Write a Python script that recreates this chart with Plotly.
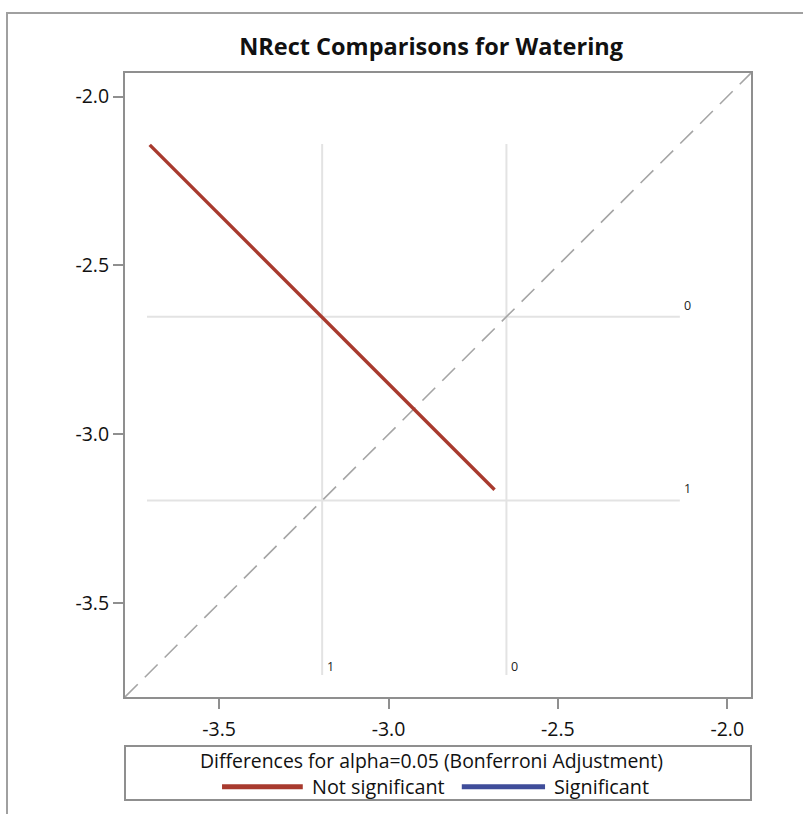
import plotly.graph_objects as go

# ---- data ----
levels = ["0", "1"]
lsmeans = [-2.652, -3.196]            # LS-means of Watering levels 0 and 1
diff_x = [-3.705, -2.687]             # comparison segment (level 1 axis)
diff_y = [-2.143, -3.164]             # comparison segment (level 0 axis)
ref_range = [-3.713, -2.140]          # extent of the reference lines
axis_range = [-3.778, -1.930]
tick_vals = [-3.5, -3.0, -2.5, -2.0]
tick_text = ["-3.5", "-3.0", "-2.5", "-2.0"]
legend_title = "Differences for alpha=0.05 (Bonferroni Adjustment)"
legend_items = ["Not significant", "Significant"]

RED = "#a83a2e"
BLUE = "#3f4d9a"
REF = "#e3e3e3"
AX = "#8f8f8f"
FONT = "Open Sans, Liberation Sans, Arial, sans-serif"

fig = go.Figure()

# reference lines (horizontal: y = mean, vertical: x = mean)
for m in lsmeans:
    fig.add_trace(go.Scatter(x=ref_range, y=[m, m], mode="lines",
                             line=dict(color=REF, width=2), hoverinfo="skip",
                             showlegend=False))
    fig.add_trace(go.Scatter(x=[m, m], y=ref_range, mode="lines",
                             line=dict(color=REF, width=2), hoverinfo="skip",
                             showlegend=False))

# diagonal
fig.add_trace(go.Scatter(x=axis_range, y=axis_range, mode="lines",
                         line=dict(color="#a5a5a5", width=1.6, dash="18px,10px"),
                         hoverinfo="skip", showlegend=False))

# comparison segment
fig.add_trace(go.Scatter(x=diff_x, y=diff_y, mode="lines",
                         line=dict(color=RED, width=3.4), showlegend=False))

annotations = []
# labels on reference lines
for lab, m in zip(levels, lsmeans):
    annotations.append(dict(x=ref_range[1], y=m, xref="x", yref="y", text=lab,
                            showarrow=False, xanchor="left", yanchor="bottom",
                            xshift=2, yshift=1,
                            font=dict(family=FONT, size=12.5, color="#222")))
    annotations.append(dict(x=m, y=ref_range[0], xref="x", yref="y", text=lab,
                            showarrow=False, xanchor="left", yanchor="bottom",
                            xshift=3, yshift=-2,
                            font=dict(family=FONT, size=12.5, color="#222")))

# legend texts
annotations.append(dict(x=0.489, y=-0.101, xref="paper", yref="paper", text=legend_title,
                        showarrow=False, xanchor="center", yanchor="middle",
                        font=dict(family=FONT, size=19.4, color="#111")))
annotations.append(dict(x=0.296, y=-0.144, xref="paper", yref="paper", text=legend_items[0],
                        showarrow=False, xanchor="left", yanchor="middle",
                        font=dict(family=FONT, size=19.8, color="#111")))
annotations.append(dict(x=0.682, y=-0.144, xref="paper", yref="paper", text=legend_items[1],
                        showarrow=False, xanchor="left", yanchor="middle",
                        font=dict(family=FONT, size=19.8, color="#111")))

shapes = [
    # outer frame
    dict(type="rect", xref="paper", yref="paper", x0=-0.1885, y0=-0.3, x1=1.3, y1=1.096,
         line=dict(color="#a0a0a0", width=2), layer="below"),
    # legend box
    dict(type="rect", xref="paper", yref="paper", x0=0, y0=-0.165, x1=1, y1=-0.0785,
         line=dict(color=AX, width=2)),
    # legend samples
    dict(type="line", xref="paper", yref="paper", x0=0.155, x1=0.284, y0=-0.144, y1=-0.144,
         line=dict(color=RED, width=5)),
    dict(type="line", xref="paper", yref="paper", x0=0.538, x1=0.671, y0=-0.144, y1=-0.144,
         line=dict(color=BLUE, width=5)),
]

axis_common = dict(range=axis_range, tickvals=tick_vals, ticktext=tick_text,
                   showline=True, mirror=True, linecolor=AX, linewidth=2,
                   ticks="outside", ticklen=10, tickwidth=2, tickcolor=AX,
                   showgrid=False, zeroline=False,
                   tickfont=dict(family=FONT, size=19.5, color="#111"))

fig.update_layout(
    width=803, height=814,
    margin=dict(l=125, r=52, t=73, b=117),
    paper_bgcolor="white", plot_bgcolor="white",
    title=dict(text="<b>NRect Comparisons for Watering</b>", x=0.489, xref="paper",
               y=1 - 47 / 814, yref="container", xanchor="center", yanchor="middle",
               font=dict(family=FONT, size=23.5, color="#111")),
    xaxis=dict(axis_common, ticklabelstandoff=4),
    yaxis=axis_common,
    annotations=annotations, shapes=shapes,
    showlegend=False,
)

fig.write_html("out.html")
